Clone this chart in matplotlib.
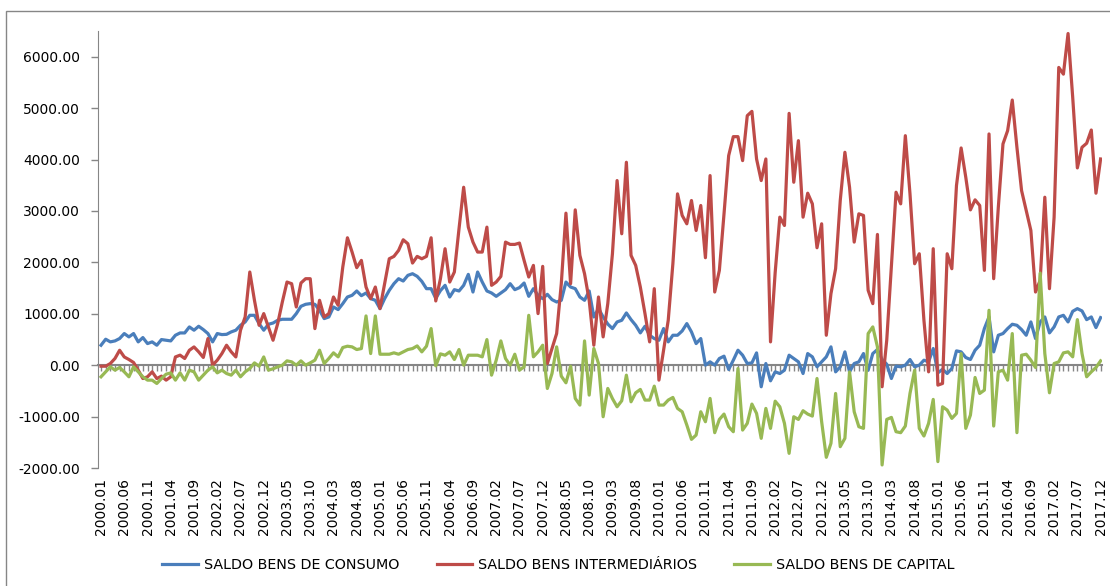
import matplotlib
matplotlib.use("Agg")
import matplotlib.pyplot as plt
import matplotlib.patches as patches
import numpy as np

# monthly labels 2000.01 .. 2017.12
months = ["%d.%02d" % (y, m) for y in range(2000, 2018) for m in range(1, 13)]

consumo = [
    388, 505, 453, 472, 518, 615, 550, 615, 453, 537, 420, 453, 388, 498, 485, 472,
    582, 627, 627, 744, 680, 757, 692, 615, 453, 615, 595, 600, 647, 680, 776, 841,
    970, 970, 808, 680, 795, 820, 873, 893, 893, 893, 1003, 1145, 1184, 1197, 1184, 1068,
    906, 938, 1132, 1081, 1197, 1326, 1359, 1443, 1352, 1404, 1294, 1262, 1100, 1294, 1456, 1585,
    1682, 1637, 1747, 1779, 1728, 1630, 1488, 1488, 1300, 1450, 1553, 1326, 1469, 1443, 1553, 1766,
    1423, 1812, 1617, 1443, 1404, 1339, 1404, 1469, 1585, 1469, 1508, 1598, 1339, 1488, 1359, 1294,
    1378, 1275, 1229, 1262, 1617, 1520, 1488, 1326, 1262, 1443, 938, 1100, 938, 800, 712, 841,
    873, 1016, 886, 776, 628, 757, 582, 518, 485, 712, 453, 582, 582, 666, 809, 647,
    420, 518, 0, 65, 0, 130, 175, -84, 97, 291, 194, 32, 45, 239, -420, 32,
    -304, -130, -162, -97, 194, 130, 65, -162, 226, 162, -32, 65, 162, 356, -130, -32,
    259, -130, 32, 65, 226, -97, 226, 304, 110, 19, -259, -19, -32, 0, 110, -32,
    0, 97, 65, 324, -150, -80, -162, -65, 278, 259, 149, 110, 291, 388, 712, 938,
    259, 582, 615, 712, 796, 776, 692, 582, 841, 518, 841, 938, 628, 744, 938, 970,
    841, 1048, 1100, 1055, 886, 938, 731, 925,
]

intermediarios = [
    -20, -20, 32, 130, 290, 160, 110, 52, -97, -260, -226, -130, -260, -213, -291, -226,
    160, 195, 130, 290, 355, 260, 150, 518, 0, 97, 226, 388, 260, 160, 680, 938,
    1812, 1262, 776, 1003, 744, 485, 808, 1230, 1617, 1585, 1132, 1598, 1682, 1682, 711, 1262,
    938, 1003, 1326, 1165, 1909, 2478, 2200, 1896, 2038, 1520, 1294, 1520, 1100, 1585, 2070, 2116,
    2232, 2439, 2362, 1986, 2116, 2070, 2116, 2478, 1249, 1680, 2265, 1617, 1812, 2653, 3461, 2685,
    2394, 2200, 2200, 2685, 1553, 1617, 1727, 2394, 2349, 2349, 2375, 2038, 1715, 1941, 1003, 1922,
    32, 324, 615, 1585, 2957, 1585, 3021, 2135, 1779, 1262, 388, 1326, 550, 1197, 2167, 3591,
    2556, 3947, 2135, 1941, 1520, 1003, 453, 1488, -291, 291, 873, 1973, 3332, 2912, 2750, 3203,
    2620, 3106, 2090, 3688, 1423, 1844, 2944, 4076, 4445, 4445, 3979, 4853, 4937, 4011, 3591, 4011,
    453, 1800, 2879, 2717, 4898, 3558, 4367, 2879, 3345, 3138, 2284, 2750, 582, 1391, 1876, 3203,
    4141, 3461, 2394, 2944, 2912, 1456, 1197, 2543, -420, 485, 1909, 3364, 3138, 4464, 3332, 1973,
    2167, 873, -130, 2265, -388, -356, 2167, 1876, 3494, 4225, 3655, 3021, 3216, 3106, 1844, 4497,
    1682, 3073, 4303, 4561, 5157, 4238, 3397, 3009, 2620, 1423, 1650, 3267, 1488, 2879, 5791, 5661,
    6451, 5208, 3837, 4238, 4316, 4574, 3345, 4011,
]

capital = [
    -226, -130, -32, -97, -45, -130, -226, -32, -130, -226, -291, -291, -356, -260, -175, -150,
    -291, -150, -291, -97, -130, -291, -194, -97, -32, -150, -97, -162, -194, -97, -226, -130,
    -65, 45, -20, 160, -97, -70, -32, 0, 84, 65, 0, 84, 0, 45, 97, 291,
    32, 130, 240, 162, 343, 369, 356, 304, 323, 958, 226, 958, 213, 213, 213, 240,
    213, 259, 304, 323, 375, 259, 369, 712, -13, 220, 194, 259, 110, 304, 0, 194,
    194, 194, 162, 498, -194, 97, 472, 130, 0, 213, -97, -32, 970, 162, 259, 388,
    -453, -162, 356, -213, -343, -20, -647, -776, 472, -582, 324, 32, -1003, -453, -650, -809,
    -692, -194, -712, -537, -472, -679, -679, -408, -776, -776, -679, -628, -841, -906, -1165, -1443,
    -1359, -906, -1100, -647, -1313, -1055, -951, -1197, -1294, -65, -1262, -1132, -757, -938, -1423, -841,
    -1229, -700, -809, -1132, -1715, -1003, -1055, -886, -951, -990, -259, -1100, -1792, -1520, -550, -1585,
    -1423, -130, -906, -1197, -1229, 615, 744, 356, -1941, -1055, -1016, -1294, -1313, -1184, -550, -97,
    -1229, -1378, -1132, -666, -1876, -809, -873, -1035, -938, 226, -1229, -970, -239, -550, -485, 1068,
    -1184, -129, -97, -291, 615, -1313, 194, 213, 97, -45, 1792, 226, -537, 32, 65, 239,
    259, 162, 886, 226, -226, -129, -45, 84,
]

series_names = ["SALDO BENS DE CONSUMO", "SALDO BENS INTERMEDIÁRIOS", "SALDO BENS DE CAPITAL"]
colors = ["#4A7EBB", "#BE4B48", "#98B954"]

x = np.arange(len(months))
grey = "#868686"

fig = plt.figure(figsize=(11.1, 5.86), dpi=100)
ax = fig.add_axes([98 / 1110, 1 - 468 / 586, 1004 / 1110, 437 / 586])

for vals, name, c in zip([consumo, intermediarios, capital], series_names, colors):
    ax.plot(x, vals, color=c, lw=2.3, label=name, solid_joinstyle="round")

ax.set_xlim(-0.65, 215.3)
ax.set_ylim(-2000, 6500)
ax.set_yticks(np.arange(-2000, 6001, 1000))
ax.set_yticklabels(["%.2f" % v for v in np.arange(-2000, 6001, 1000)], fontsize=10)
ax.tick_params(axis="y", direction="out", length=5, color=grey, width=1, pad=8)

for s in ["top", "right", "bottom"]:
    ax.spines[s].set_visible(False)
ax.spines["left"].set_color(grey)

# labels every 5 months at the bottom
ax.set_xticks(x[::5])
ax.set_xticklabels(months[::5], rotation=90, fontsize=10)
ax.tick_params(axis="x", length=0, pad=7)

# category axis line at zero with monthly tick marks
zero = ax.secondary_xaxis(2000 / 8500)
zero.set_xticks(x)
zero.tick_params(axis="x", direction="out", length=4, color=grey, width=1, labelbottom=False)
zero.spines["bottom"].set_color(grey)
zero.spines["bottom"].set_linewidth(1.5)

fig.legend(loc="center", bbox_to_anchor=(0.503, 0.036), ncol=3, frameon=False,
           fontsize=10.3, handlelength=2.5, handletextpad=0.4, columnspacing=2.6)

fig.patches.append(patches.Rectangle((6 / 1110, -0.5), 2, 0.5 + 1 - 11 / 586,
                                     transform=fig.transFigure, fill=False,
                                     edgecolor=grey, lw=1))

fig.savefig("out.png", dpi=100)
